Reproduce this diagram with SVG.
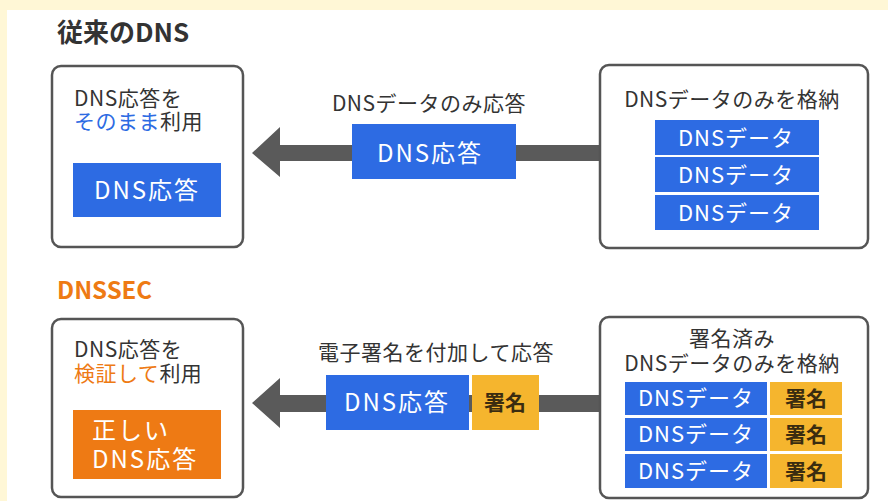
<svg xmlns="http://www.w3.org/2000/svg" width="888" height="501" viewBox="0 0 888 501">
<style>
text{font-family:"Noto Sans CJK JP","Noto Sans",sans-serif}
.box{fill:#fff;stroke:#555;stroke-width:2.5}
.blue{fill:#2d6be3}
.org{fill:#ee7a14}
.yel{fill:#f5b52e}
.arr{fill:#5a5a5a}
.lbl{font-size:21px;fill:#333;letter-spacing:0.5px}
.in{font-size:22px;fill:#fff;text-anchor:middle;letter-spacing:1px}
.big{font-size:24px;fill:#fff;letter-spacing:2px}
.sig{font-size:21px;fill:#3a2c10;text-anchor:middle;font-weight:bold}
</style>
<rect x="0" y="0" width="888" height="501" fill="#fff7d6"/>
<rect x="7" y="10" width="881" height="491" fill="#fff"/>
<text x="57" y="42" font-size="26" font-weight="bold" fill="#333">従来のDNS</text>
<text x="57" y="299" font-size="24" font-weight="bold" fill="#ee7a14">DNSSEC</text>
<g id="connectors">
<polygon class="arr" points="252,153 280,127 280,145 600,145 600,161 280,161 280,177"/>
<polygon class="arr" points="252,403 280,378 280,395 600,395 600,412 280,412 280,428"/>
</g>
<g id="client1">
<rect class="box" x="52" y="66" width="191" height="181" rx="9"/>
<text class="lbl" x="74" y="106">DNS応答を</text>
<text class="lbl" x="74" y="129"><tspan fill="#2d6be3">そのまま</tspan>利用</text>
<rect class="blue" x="73" y="163" width="148" height="54"/>
<text class="big" x="147" y="199" text-anchor="middle">DNS応答</text>
</g>
<g id="msg1">
<text class="lbl" x="429" y="111" text-anchor="middle">DNSデータのみ応答</text>
<rect class="blue" x="352" y="124" width="164" height="55"/>
<text class="big" x="430" y="162" text-anchor="middle">DNS応答</text>
</g>
<g id="server1">
<rect class="box" x="600" y="65" width="268" height="183" rx="9"/>
<text class="lbl" x="732" y="107" text-anchor="middle">DNSデータのみを格納</text>
<rect class="blue" x="655" y="120" width="164" height="35"/>
<rect class="blue" x="655" y="157" width="164" height="35"/>
<rect class="blue" x="655" y="195" width="164" height="35"/>
<text class="in" x="736" y="146">DNSデータ</text>
<text class="in" x="736" y="183">DNSデータ</text>
<text class="in" x="736" y="221">DNSデータ</text>
</g>
<g id="client2">
<rect class="box" x="52" y="319" width="191" height="178" rx="9"/>
<text class="lbl" x="74" y="357">DNS応答を</text>
<text class="lbl" x="74" y="381"><tspan fill="#ee7a14">検証して</tspan>利用</text>
<rect class="org" x="73" y="410" width="148" height="69"/>
<text class="big" x="92" y="439">正しい</text>
<text class="big" x="92" y="468">DNS応答</text>
</g>
<g id="msg2">
<text class="lbl" x="436" y="360" text-anchor="middle">電子署名を付加して応答</text>
<rect class="blue" x="326" y="375" width="143" height="55"/>
<rect class="yel" x="472" y="375" width="67" height="55"/>
<text class="big" x="397" y="411" text-anchor="middle">DNS応答</text>
<text class="sig" x="505" y="410">署名</text>
</g>
<g id="server2">
<rect class="box" x="600" y="317" width="268" height="181" rx="9"/>
<text class="lbl" x="732" y="346" text-anchor="middle">署名済み</text>
<text class="lbl" x="732" y="371" text-anchor="middle">DNSデータのみを格納</text>
<rect class="blue" x="625" y="382" width="142" height="33"/>
<rect class="blue" x="625" y="418" width="142" height="33"/>
<rect class="blue" x="625" y="454" width="142" height="34"/>
<rect class="yel" x="770" y="382" width="72" height="33"/>
<rect class="yel" x="770" y="418" width="72" height="33"/>
<rect class="yel" x="770" y="454" width="72" height="34"/>
<text class="in" x="696" y="406">DNSデータ</text>
<text class="in" x="696" y="442">DNSデータ</text>
<text class="in" x="696" y="479">DNSデータ</text>
<text class="sig" x="806" y="406">署名</text>
<text class="sig" x="806" y="442">署名</text>
<text class="sig" x="806" y="479">署名</text>
</g>
</svg>
